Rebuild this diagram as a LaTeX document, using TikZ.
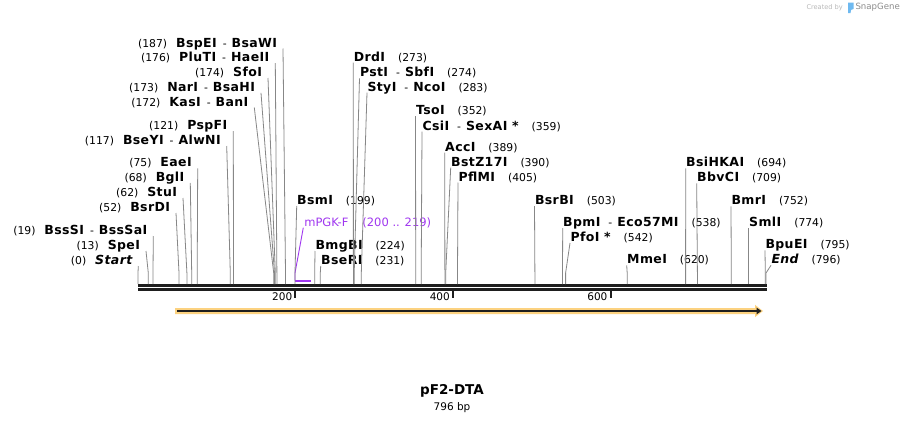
\documentclass[tikz,border=0pt]{standalone}
\usepackage{fontspec}
\setmainfont{DejaVu Sans}
\newfontfamily\enfont[LetterSpace=3]{DejaVu Sans}
\usetikzlibrary{calc,arrows.meta}
\definecolor{cutgray}{RGB}{135,135,135}
\definecolor{basecol}{RGB}{30,30,30}
\definecolor{primer}{RGB}{160,55,240}
\definecolor{featorange}{RGB}{252,210,128}
\definecolor{wmgray}{RGB}{185,185,185}
\definecolor{wmdark}{RGB}{140,140,140}
\definecolor{wmblue}{RGB}{110,185,240}
\newcommand{\EN}[1]{{\enfont\fontsize{12.5}{14}\selectfont\bfseries #1}}
\newcommand{\EI}[1]{{\enfont\fontsize{12.5}{14}\selectfont\bfseries\itshape #1}}
\newcommand{\NU}[1]{{\fontsize{10.8}{13}\selectfont (#1)}}
\newcommand{\DS}{{\fontsize{10.8}{13}\selectfont -}}
\newcommand{\Lg}{\hspace{9pt}}
\newcommand{\Dg}{\hspace{6pt}\DS\hspace{5pt}}
\newcommand{\Rg}{\hspace{13pt}}
\newcommand{\RDg}{\hspace{8pt}\DS\hspace{5pt}}
% left-side label: name, site x, attach x, attach y, text
\newcommand{\cutL}[5]{%
  \coordinate (#1-s) at (#2,284);
  \coordinate (#1-k) at (#2,273);
  \node[lbl,anchor=base east] (#1) at (#3-6,#4-1.5) {#5};
  \draw[cut] (#1-s) -- (#1-k) -- ([xshift=6pt,yshift=-1.5pt]#1.base east);
}
% right-side label
\newcommand{\cutR}[5]{%
  \coordinate (#1-s) at (#2,284);
  \coordinate (#1-k) at (#2,273);
  \node[lbl,anchor=base west] (#1) at (#3+0.5,#4-1.5) {#5};
  \draw[cut] (#1-s) -- (#1-k) -- ([xshift=-0.5pt,yshift=-1.5pt]#1.base west);
}
\tikzset{
  lbl/.style={inner sep=0pt,outer sep=0pt},
  cut/.style={draw=cutgray,line width=0.8pt},
  baseline/.style={draw=basecol,line width=2.7pt},
  tickmark/.style={draw=basecol,line width=2pt},
  ticklbl/.style={inner sep=0pt,font=\fontsize{10.5}{12}\selectfont,anchor=east}
}
\begin{document}
\begin{tikzpicture}[x=1pt,y=-1pt]
\useasboundingbox (0,0) rectangle (905,423);
\fill[white] (0,0) rectangle (905,423);

% watermark
\node[lbl,anchor=west,text=wmgray,font=\fontsize{6.6}{8}\selectfont] (wm1) at (806.5,7.3) {Created by};
\fill[wmblue] (848,2.5) -- (853.5,2.5) -- (853.5,9) .. controls (851,9) and (850.5,10) .. (850.5,13) -- (848,13) -- cycle;
\node[lbl,anchor=west,text=wmdark,font=\fontsize{8.6}{10}\selectfont] (wm2) at (855.5,7.3) {SnapGene};

% baseline
\draw[baseline] (138,285.4) -- (766.7,285.4);
\draw[baseline] (138,289.4) -- (766.7,289.4);

% ticks
\foreach \v/\xx in {200/295.4,400/453,600/610.6}{
  \draw[tickmark] (\xx,290.5) -- (\xx,297.5);
  \node[ticklbl] (t\v) at (\xx-3,296.8) {\v};
}

% feature arrow
\fill[featorange] (175,308) -- (755,308) -- (755,304.8) -- (763,311) -- (755,317.2) -- (755,314) -- (175,314) -- cycle;
\draw[basecol,line width=1.8pt,-{Triangle[length=5pt,width=6.5pt]}] (177,311) -- (761.5,311);

% primer
\coordinate (prm-s) at (295,280.7);
\coordinate (prm-k) at (295,273);
\draw[primer,line width=2.3pt] (295,280.7) -- (310.8,280.7);
\node[lbl,anchor=base west,text=primer,font=\fontsize{11.5}{13}\selectfont] (prm) at (304.3,226.5) {mPGK-F\hspace{14pt}(200 .. 219)};
\draw[primer,line width=0.9pt] (prm-s) -- (prm-k) -- ([xshift=-1pt,yshift=-1.2pt]prm.base west);

% left group
\cutL{bspei}{285.5}{283}{48.5}{\NU{187}\Lg\EN{BspEI}\Dg\EN{BsaWI}}
\cutL{pluti}{276.9}{275.3}{63.2}{\NU{176}\Lg\EN{PluTI}\Dg\EN{HaeII}}
\cutL{sfoi}{275.3}{268}{78}{\NU{174}\Lg\EN{SfoI}}
\cutL{nari}{274.5}{261}{92.8}{\NU{173}\Lg\EN{NarI}\Dg\EN{BsaHI}}
\cutL{kasi}{273.7}{254.3}{107.5}{\NU{172}\Lg\EN{KasI}\Dg\EN{BanI}}
\cutL{pspfi}{233.5}{233.3}{131}{\NU{121}\Lg\EN{PspFI}}
\cutL{bseyi}{230.3}{226.7}{146}{\NU{117}\Lg\EN{BseYI}\Dg\EN{AlwNI}}
\cutL{eaei}{197.2}{197.7}{168.3}{\NU{75}\Lg\EN{EaeI}}
\cutL{bgli}{191.7}{190.3}{183}{\NU{68}\Lg\EN{BglI}}
\cutL{stui}{186.9}{183}{198}{\NU{62}\Lg\EN{StuI}}
\cutL{bsrdi}{179}{176}{213}{\NU{52}\Lg\EN{BsrDI}}
\cutL{bsssi}{153}{153.3}{236}{\NU{19}\Lg\EN{BssSI}\Dg\EN{BssSaI}}
\cutL{spei}{148.3}{146}{251}{\NU{13}\Lg\EN{SpeI}}
\cutL{start}{138}{138.3}{266}{\NU{0}\Lg\EI{Start}}

% middle / right groups
\cutR{bsmi}{295}{296.7}{206}{\EN{BsmI}\Rg\NU{199}}
\cutR{bmgbi}{314.7}{315}{251}{\EN{BmgBI}\Rg\NU{224}}
\cutR{bseri}{320.3}{320.7}{266}{\EN{BseRI}\Rg\NU{231}}
\cutR{drdi}{353.4}{353.3}{62.7}{\EN{DrdI}\Rg\NU{273}}
\cutR{psti}{354.2}{359.5}{78.3}{\EN{PstI}\RDg\EN{SbfI}\Rg\NU{274}}
\cutR{styi}{361.3}{367}{92.7}{\EN{StyI}\RDg\EN{NcoI}\Rg\NU{283}}
\cutR{tsoi}{415.7}{415.5}{116}{\EN{TsoI}\Rg\NU{352}}
\cutR{csii}{421.2}{422}{131.7}{\EN{CsiI}\RDg\EN{SexAI *}\Rg\NU{359}}
\cutR{acci}{444.9}{444.7}{152.7}{\EN{AccI}\Rg\NU{389}}
\cutR{bstz}{445.7}{450.7}{167.7}{\EN{BstZ17I}\Rg\NU{390}}
\cutR{pflmi}{457.5}{458}{182.5}{\EN{PflMI}\Rg\NU{405}}
\cutR{bsrbi}{534.9}{534.5}{206}{\EN{BsrBI}\Rg\NU{503}}
\cutR{bpmi}{562.5}{562.7}{228}{\EN{BpmI}\RDg\EN{Eco57MI}\Rg\NU{538}}
\cutR{pfoi}{565.6}{570}{243}{\EN{PfoI *}\Rg\NU{542}}
\cutR{mmei}{627.2}{626.7}{265.3}{\EN{MmeI}\Rg\NU{620}}
\cutR{bsihkai}{685.6}{685.7}{168.3}{\EN{BsiHKAI}\Rg\NU{694}}
\cutR{bbvci}{697.4}{696.7}{183.3}{\EN{BbvCI}\Rg\NU{709}}
\cutR{bmri}{731.3}{731}{206.3}{\EN{BmrI}\Rg\NU{752}}
\cutR{smli}{748.7}{748.7}{228}{\EN{SmlI}\Rg\NU{774}}
\cutR{bpuei}{765.3}{765}{250.3}{\EN{BpuEI}\Rg\NU{795}}
\cutR{endl}{766}{771}{265.3}{\EI{End}\Rg\NU{796}}

% title
\node[lbl,font=\fontsize{13.5}{15}\selectfont\bfseries] (title) at (452,391) {pF2-DTA};
\node[lbl,font=\fontsize{10.5}{12}\selectfont] (size) at (452,407.5) {796 bp};
\end{tikzpicture}
\end{document}
